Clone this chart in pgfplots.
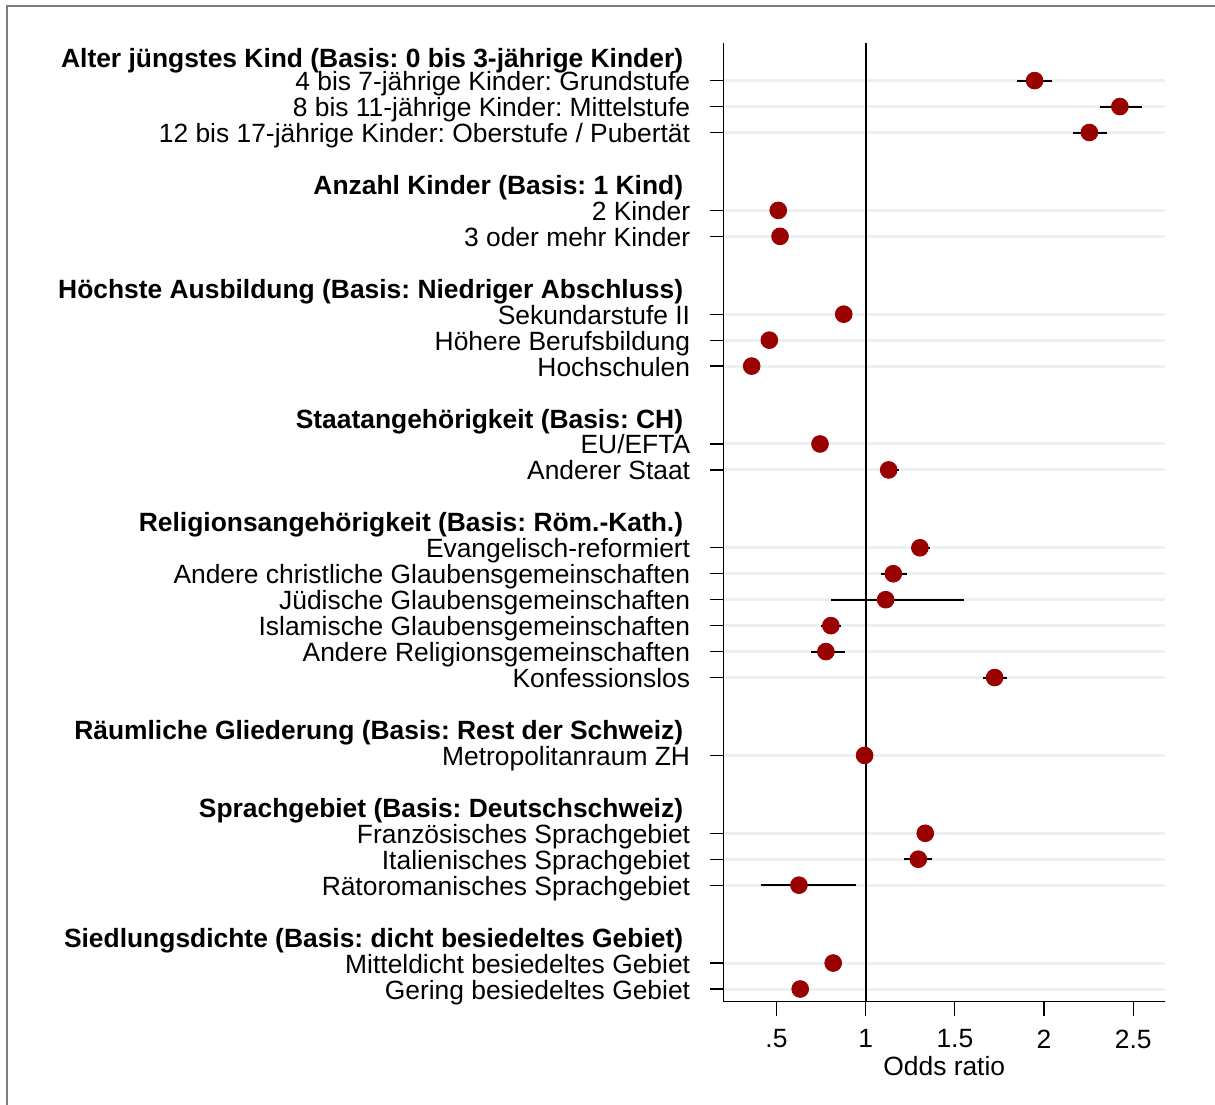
\documentclass[border=0pt]{standalone}
\usepackage{pgfplots}
\pgfplotsset{compat=1.18}
\usepackage{pgfplotstable}
\usepackage{fontspec}
\setmainfont{Liberation Sans}
\frenchspacing

\definecolor{markred}{RGB}{153,0,0}
\definecolor{gridbg}{RGB}{233,241,243}
\definecolor{framegray}{RGB}{125,125,125}

% odds ratios with 95% confidence limits, one line per coefficient
\pgfplotstableread{
row est lo hi
1 1.947 1.850 2.043
2 2.425 2.313 2.551
3 2.254 2.164 2.351
6 0.510 0.495 0.525
7 0.520 0.505 0.535
10 0.877 0.860 0.895
11 0.460 0.445 0.475
12 0.361 0.350 0.372
15 0.744 0.725 0.763
16 1.129 1.080 1.188
19 1.304 1.256 1.360
20 1.155 1.087 1.232
21 1.112 0.804 1.549
22 0.805 0.751 0.863
23 0.777 0.692 0.882
24 1.723 1.659 1.790
27 0.994 0.975 1.013
30 1.334 1.286 1.385
31 1.295 1.216 1.373
32 0.626 0.413 0.944
35 0.818 0.800 0.836
36 0.633 0.615 0.651
}\coefs

\newcommand{\lblfont}{\fontsize{13.2}{15.8}\selectfont}

\begin{document}
\begin{tikzpicture}
\useasboundingbox (0,0) rectangle (607.5pt,552pt);
\draw[framegray, line width=0.8pt] (3.4pt,-2pt) -- (3.4pt,549pt) -- (610pt,549pt);
\begin{axis}[
  at={(361.75pt,51.15pt)}, anchor=south west,
  scale only axis, width=220.75pt, height=479.5pt,
  xmin=0.203, xmax=2.678,
  ymin=-0.46, ymax=36.49, y dir=reverse,
  axis x line*=bottom, axis y line*=left,
  x axis line style={-, line width=0.6pt},
  y axis line style={-, line width=0.6pt},
  tick align=outside, major tick length=7pt,
  tick style={black, line width=0.6pt},
  xtick={0.5,1,1.5,2,2.5},
  xticklabels={.5,1,1.5,2,2.5},
  xtick pos=bottom, ytick pos=left,
  /pgf/number format/assume math mode=true,
  tick label style={font=\lblfont},
  label style={font=\lblfont},
  xticklabel style={yshift=-3.5pt},
  xlabel={Odds ratio},
  xlabel style={yshift=3pt},
  ymajorgrids,
  grid style={gridbg, line width=1.5pt},
  ytick={1,2,3,6,7,10,11,12,15,16,19,20,21,22,23,24,27,30,31,32,35,36},
  yticklabels={
    {4 bis 7-jährige Kinder: Grundstufe},
    {8 bis 11-jährige Kinder: Mittelstufe},
    {12 bis 17-jährige Kinder: Oberstufe / Pubertät},
    {2 Kinder},
    {3 oder mehr Kinder},
    {Sekundarstufe II},
    {Höhere Berufsbildung},
    {Hochschulen},
    {EU/EFTA},
    {Anderer Staat},
    {Evangelisch-reformiert},
    {Andere christliche Glaubensgemeinschaften},
    {Jüdische Glaubensgemeinschaften},
    {Islamische Glaubensgemeinschaften},
    {Andere Religionsgemeinschaften},
    {Konfessionslos},
    {Metropolitanraum ZH},
    {Französisches Sprachgebiet},
    {Italienisches Sprachgebiet},
    {Rätoromanisches Sprachgebiet},
    {Mitteldicht besiedeltes Gebiet},
    {Gering besiedeltes Gebiet}},
  yticklabel style={anchor=base east, inner sep=0pt, xshift=-9.5pt, yshift=-5pt},
  extra y ticks={0.12,5,9,14,18,26,29,34},
  extra y tick labels={
    {\textbf{Alter jüngstes Kind (Basis: 0 bis 3-jährige Kinder)}},
    {\textbf{Anzahl Kinder (Basis: 1 Kind)}},
    {\textbf{Höchste Ausbildung (Basis: Niedriger Abschluss)}},
    {\textbf{Staatangehörigkeit (Basis: CH)}},
    {\textbf{Religionsangehörigkeit (Basis: Röm.-Kath.)}},
    {\textbf{Räumliche Gliederung (Basis: Rest der Schweiz)}},
    {\textbf{Sprachgebiet (Basis: Deutschschweiz)}},
    {\textbf{Siedlungsdichte (Basis: dicht besiedeltes Gebiet)}}},
  extra y tick style={grid=none, major tick length=0pt,
    yticklabel style={xshift=-10.5pt}},
  clip=false,
]
% reference line at an odds ratio of one
\draw[black, line width=1pt] (axis cs:1,-0.46) -- (axis cs:1,36.49);
% confidence intervals
\addplot[draw=none, mark=none, forget plot,
  error bars/.cd, x dir=both, x explicit, error mark=none,
  error bar style={draw=black, solid, line width=1pt}]
  table[x=est, y=row,
        x error plus expr=\thisrow{hi}-\thisrow{est},
        x error minus expr=\thisrow{est}-\thisrow{lo}] {\coefs};
% point estimates
\addplot[only marks, mark=*, mark size=4.2pt,
  mark options={draw=markred, fill=markred}]
  table[x=est, y=row] {\coefs};
\end{axis}
\end{tikzpicture}
\end{document}
